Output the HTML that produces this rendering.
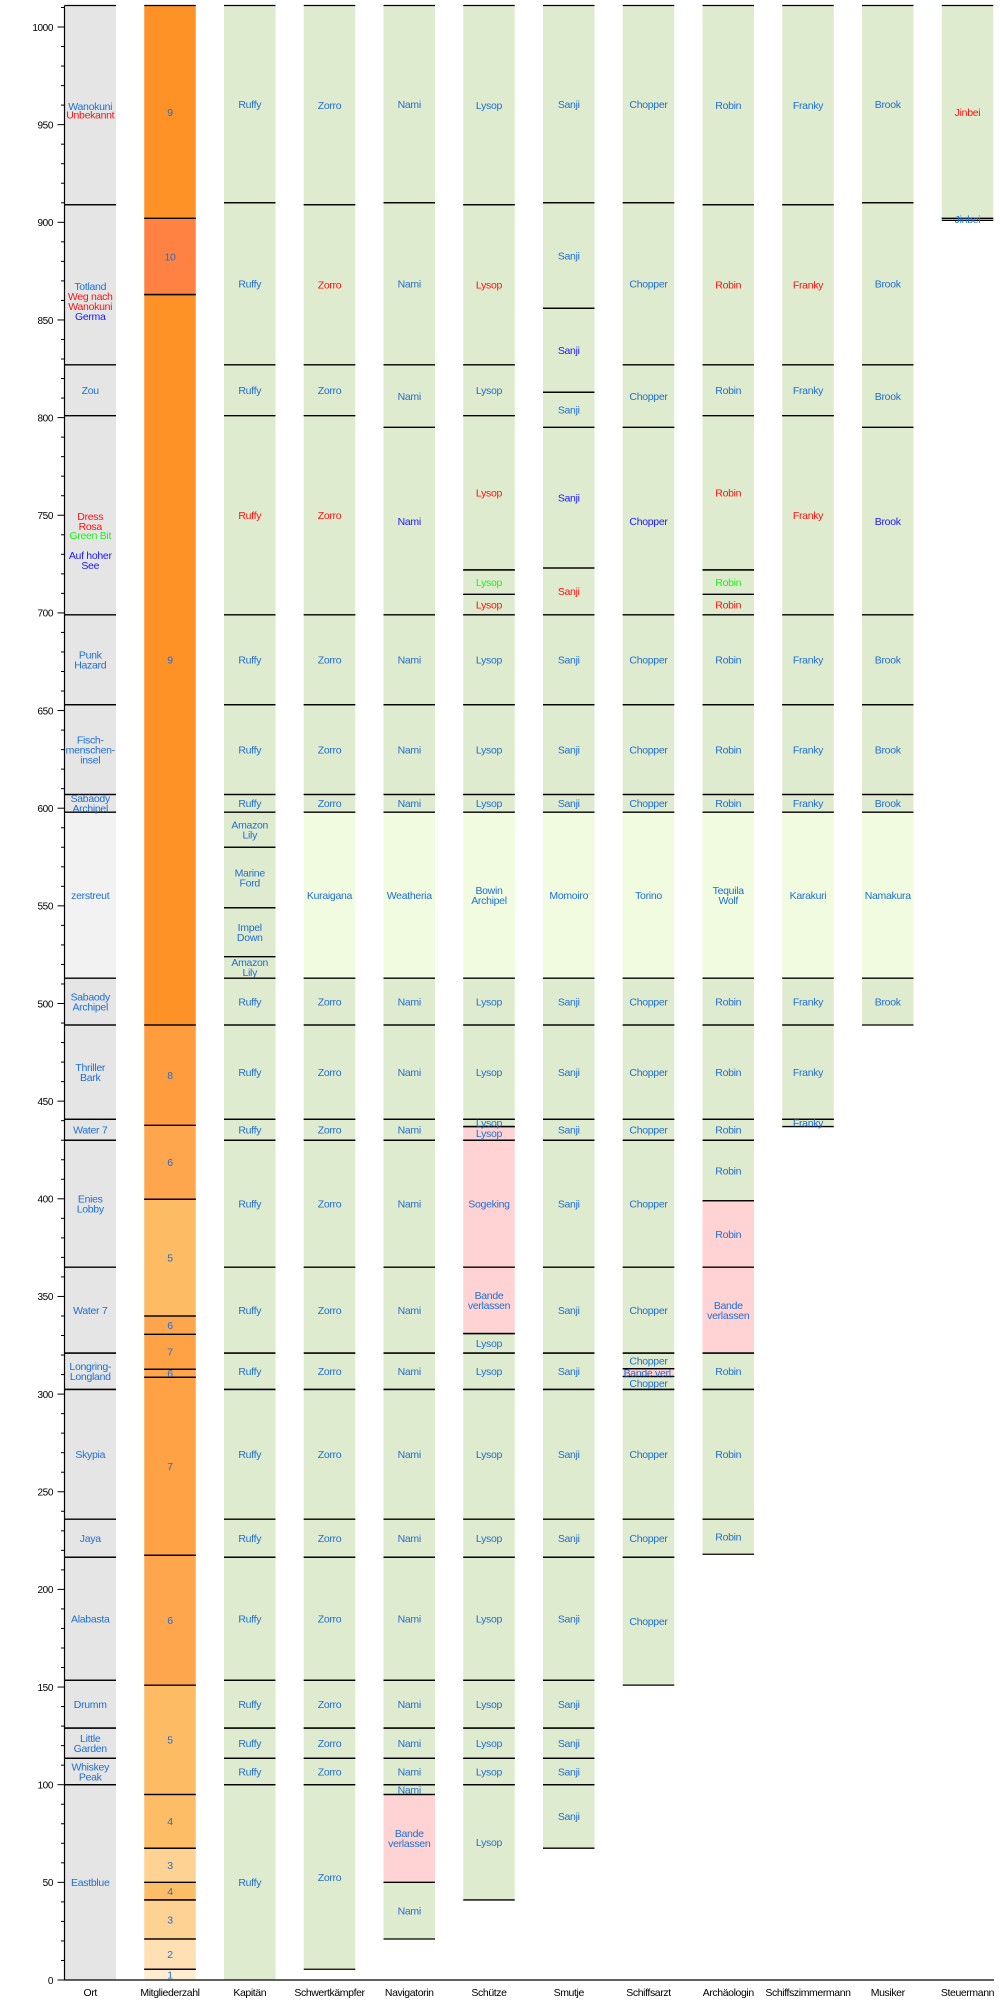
<!DOCTYPE html>
<html><head><meta charset="utf-8"><title>Strohhutbande Chart</title>
<style>
html,body{margin:0;padding:0;background:#fff;}
svg{display:block;font-family:"Liberation Sans","DejaVu Sans",sans-serif;}
</style></head>
<body>
<svg id="chart" width="1000" height="2000" viewBox="0 0 1000 2000" xmlns="http://www.w3.org/2000/svg"></svg>
<script>
const categories = ["Ort","Mitgliederzahl","Kapitän","Schwertkämpfer","Navigatorin","Schütze","Smutje","Schiffsarzt","Archäologin","Schiffszimmermann","Musiker","Steuermann"];
const yTicks = [0,50,100,150,200,250,300,350,400,450,500,550,600,650,700,750,800,850,900,950,1000];
const yMax = 1011;
// [from, to, label, fill, textColor]
const ortSeg = [[0,100,"Eastblue"],[100,113.5,"Whiskey\nPeak"],[113.5,129,"Little\nGarden"],[129,153.5,"Drumm"],[153.5,216.5,"Alabasta"],[216.5,236,"Jaya"],[236,302.4,"Skypia"],[302.4,321,"Longring-\nLongland"],[321,365,"Water 7"],[365,430,"Enies\nLobby"],[430,440.7,"Water 7"],[440.7,489,"Thriller\nBark"],[489,513,"Sabaody\nArchipel"],[513,598,"zerstreut","ol"],[598,607,"Sabaody\nArchipel"],[607,653,"Fisch-\nmenschen-\ninsel"],[653,699,"Punk\nHazard"],[699,801,""],[801,827,"Zou"],[827,909,""],[909,1011,""]];
// [value, text, color]
const ortNotes = [[747,"Dress\nRosa","r"],[739.7,"Green Bit","gr"],[727,"Auf hoher\nSee","db"],[867.4,"Totland","b"],[859.7,"Weg nach\nWanokuni","r"],[852,"Germa","db"],[959.4,"Wanokuni","b"],[955,"Unbekannt","r"]];
const memberSeg = [[0,5.5,1],[5.5,21,2],[21,41,3],[41,50,4],[50,67.5,3],[67.5,95,4],[95,151,5],[151,217.5,6],[217.5,308.6,7],[308.6,312.7,6],[312.7,330.6,7],[330.6,340,6],[340,399.8,5],[399.8,437.6,6],[437.6,489,8],[489,863,9],[863,902,10],[902,1011,9]];
const kapitanSeg = [[0,100,"Ruffy"],[100,113.5,"Ruffy"],[113.5,129,"Ruffy"],[129,153.5,"Ruffy"],[153.5,216.5,"Ruffy"],[216.5,236,"Ruffy"],[236,302.4,"Ruffy"],[302.4,321,"Ruffy"],[321,365,"Ruffy"],[365,430,"Ruffy"],[430,440.7,"Ruffy"],[440.7,489,"Ruffy"],[489,513,"Ruffy"],[513,524,"Amazon\nLily"],[524,549,"Impel\nDown"],[549,580,"Marine\nFord"],[580,598,"Amazon\nLily"],[598,607,"Ruffy"],[607,653,"Ruffy"],[653,699,"Ruffy"],[699,801,"Ruffy","g","r"],[801,827,"Ruffy"],[827,910,"Ruffy"],[910,1011,"Ruffy"]];
const zorroSeg = [[5.5,100,"Zorro"],[100,113.5,"Zorro"],[113.5,129,"Zorro"],[129,153.5,"Zorro"],[153.5,216.5,"Zorro"],[216.5,236,"Zorro"],[236,302.4,"Zorro"],[302.4,321,"Zorro"],[321,365,"Zorro"],[365,430,"Zorro"],[430,440.7,"Zorro"],[440.7,489,"Zorro"],[489,513,"Zorro"],[513,598,"Kuraigana","lg"],[598,607,"Zorro"],[607,653,"Zorro"],[653,699,"Zorro"],[699,801,"Zorro","g","r"],[801,827,"Zorro"],[827,909,"Zorro","g","r"],[909,1011,"Zorro"]];
const namiSeg = [[21,50,"Nami"],[50,95,"Bande\nverlassen","p"],[95,100,"Nami"],[100,113.5,"Nami"],[113.5,129,"Nami"],[129,153.5,"Nami"],[153.5,216.5,"Nami"],[216.5,236,"Nami"],[236,302.4,"Nami"],[302.4,321,"Nami"],[321,365,"Nami"],[365,430,"Nami"],[430,440.7,"Nami"],[440.7,489,"Nami"],[489,513,"Nami"],[513,598,"Weatheria","lg"],[598,607,"Nami"],[607,653,"Nami"],[653,699,"Nami"],[699,795,"Nami","g","db"],[795,827,"Nami"],[827,910,"Nami"],[910,1011,"Nami"]];
const lysopSeg = [[41,100,"Lysop"],[100,113.5,"Lysop"],[113.5,129,"Lysop"],[129,153.5,"Lysop"],[153.5,216.5,"Lysop"],[216.5,236,"Lysop"],[236,302.4,"Lysop"],[302.4,321,"Lysop"],[321,331,"Lysop"],[331,365,"Bande\nverlassen","p"],[365,430,"Sogeking","p"],[430,437,"Lysop","p"],[437,440.7,"Lysop"],[440.7,489,"Lysop"],[489,513,"Lysop"],[513,598,"Bowin\nArchipel","lg"],[598,607,"Lysop"],[607,653,"Lysop"],[653,699,"Lysop"],[699,709.5,"Lysop","g","r"],[709.5,722,"Lysop","g","gr"],[722,801,"Lysop","g","r"],[801,827,"Lysop"],[827,909,"Lysop","g","r"],[909,1011,"Lysop"]];
const sanjiSeg = [[67.5,100,"Sanji"],[100,113.5,"Sanji"],[113.5,129,"Sanji"],[129,153.5,"Sanji"],[153.5,216.5,"Sanji"],[216.5,236,"Sanji"],[236,302.4,"Sanji"],[302.4,321,"Sanji"],[321,365,"Sanji"],[365,430,"Sanji"],[430,440.7,"Sanji"],[440.7,489,"Sanji"],[489,513,"Sanji"],[513,598,"Momoiro","lg"],[598,607,"Sanji"],[607,653,"Sanji"],[653,699,"Sanji"],[699,723,"Sanji","g","r"],[723,795,"Sanji","g","db"],[795,813,"Sanji"],[813,856,"Sanji","g","db"],[856,910,"Sanji"],[910,1011,"Sanji"]];
const chopperSeg = [[151,216.5,"Chopper"],[216.5,236,"Chopper"],[236,302.4,"Chopper"],[302.4,309,"Chopper"],[309,313,"Bande verl.","p"],[313,321,"Chopper"],[321,365,"Chopper"],[365,430,"Chopper"],[430,440.7,"Chopper"],[440.7,489,"Chopper"],[489,513,"Chopper"],[513,598,"Torino","lg"],[598,607,"Chopper"],[607,653,"Chopper"],[653,699,"Chopper"],[699,795,"Chopper","g","db"],[795,827,"Chopper"],[827,910,"Chopper"],[910,1011,"Chopper"]];
const robinSeg = [[218,236,"Robin"],[236,302.4,"Robin"],[302.4,321,"Robin"],[321,365,"Bande\nverlassen","p"],[365,399,"Robin","p"],[399,430,"Robin"],[430,440.7,"Robin"],[440.7,489,"Robin"],[489,513,"Robin"],[513,598,"Tequila\nWolf","lg"],[598,607,"Robin"],[607,653,"Robin"],[653,699,"Robin"],[699,709.5,"Robin","g","r"],[709.5,722,"Robin","g","gr"],[722,801,"Robin","g","r"],[801,827,"Robin"],[827,909,"Robin","g","r"],[909,1011,"Robin"]];
const frankySeg = [[437,440.7,"Franky"],[440.7,489,"Franky"],[489,513,"Franky"],[513,598,"Karakuri","lg"],[598,607,"Franky"],[607,653,"Franky"],[653,699,"Franky"],[699,801,"Franky","g","r"],[801,827,"Franky"],[827,909,"Franky","g","r"],[909,1011,"Franky"]];
const brookSeg = [[489,513,"Brook"],[513,598,"Namakura","lg"],[598,607,"Brook"],[607,653,"Brook"],[653,699,"Brook"],[699,795,"Brook","g","db"],[795,827,"Brook"],[827,910,"Brook"],[910,1011,"Brook"]];
const jinbeiSeg = [[901,902,"Jinbei"],[902,1011,"Jinbei","g","r"]];

const FILL = {g:"#dfebce",lg:"#f0fbdf",p:"#ffd3d3",o:"#e5e5e5",ol:"#f2f2f2"};
const TCOL = {b:"#1f6fd1",r:"#ff1010",gr:"#22ee22",db:"#1a1aff"};
const MCOL = {1:"#feedd0",2:"#fee0b4",3:"#fdd293",4:"#fdbd66",5:"#fdbb63",6:"#fea64e",7:"#fea245",8:"#fe9c3e",9:"#fe9226",10:"#ff8242"};

const NS = "http://www.w3.org/2000/svg";
const svg = document.getElementById("chart");
const y0 = 1980, k = 1.953;
function yScale(v){ return y0 - k*v; }
const colLeft0 = 64.5, colStep = 79.75, colW = 51.5;
function xLeft(i){ return colLeft0 + colStep*i; }
function xCenter(i){ return xLeft(i) + colW/2; }

function mk(tag, attrs, parent){
  const e = document.createElementNS(NS, tag);
  for (const a in attrs) e.setAttribute(a, attrs[a]);
  (parent||svg).appendChild(e);
  return e;
}
function multiText(g, cx, cyVal, label, color, name){
  const lines = String(label).split("\n");
  const cy = yScale(cyVal);
  const lh = 10;
  const t = mk("text", {x:cx, "text-anchor":"middle", "font-size":"10.5", fill:color, "letter-spacing":"-0.3"}, g);
  
  
  lines.forEach((ln, j) => {
    const ts = mk("tspan", {x:cx, y:(cy - (lines.length-1)*lh/2 + j*lh + 3.8).toFixed(1)}, t);
    ts.textContent = ln;
  });
}
function drawColumn(i, segs, name, defFill){
  const g = mk("g", {});
  
  
  const x = xLeft(i);
  segs.forEach(s => {
    const [a, b, label, f, tc] = s;
    const r = mk("rect", {x:x, y:yScale(b), width:colW, height:(yScale(a)-yScale(b)), fill:FILL[f||defFill]}, g);
    
    
  });
  segs.forEach(s => {
    [s[0], s[1]].forEach(v => {
      if (v <= 0) return;
      mk("line", {x1:x, x2:x+colW, y1:yScale(v), y2:yScale(v), stroke:"#000", "stroke-width":"1.3"}, g);
    });
  });
  segs.forEach(s => {
    const [a, b, label, f, tc] = s;
    if (label) multiText(g, xCenter(i), (a+b)/2, label, TCOL[tc||"b"], name + '-label');
  });
}

// Ort
drawColumn(0, ortSeg, "ort", "o");
ortNotes.forEach(n => multiText(svg, xCenter(0), n[0], n[1], TCOL[n[2]], "ort-note"));
// Mitgliederzahl
(function(){
  const g = mk("g", {});
  
  
  const x = xLeft(1);
  memberSeg.forEach(s => {
    const r = mk("rect", {x:x, y:yScale(s[1]), width:colW, height:(yScale(s[0])-yScale(s[1])), fill:MCOL[s[2]]}, g);
    
    
  });
  memberSeg.forEach(s => {
    [s[0], s[1]].forEach(v => { if (v > 0) mk("line", {x1:x, x2:x+colW, y1:yScale(v), y2:yScale(v), stroke:"#000", "stroke-width":"1.3"}, g); });
  });
  memberSeg.forEach(s => multiText(g, xCenter(1), (s[0]+s[1])/2, String(s[2]), TCOL.b, "member-count-label"));
})();
drawColumn(2, kapitanSeg, "kapitaen", "g");
drawColumn(3, zorroSeg, "schwertkaempfer", "g");
drawColumn(4, namiSeg, "navigatorin", "g");
drawColumn(5, lysopSeg, "schuetze", "g");
drawColumn(6, sanjiSeg, "smutje", "g");
drawColumn(7, chopperSeg, "schiffsarzt", "g");
drawColumn(8, robinSeg, "archaeologin", "g");
drawColumn(9, frankySeg, "schiffszimmermann", "g");
drawColumn(10, brookSeg, "musiker", "g");
drawColumn(11, jinbeiSeg, "steuermann", "g");

// Axes
const ax = mk("g", {});


mk("line", {x1:64.5, x2:64.5, y1:yScale(yMax), y2:y0, stroke:"#000", "stroke-width":"1.2"}, ax);
for (let v = 0; v <= 1010; v += 10) {
  const major = v % 50 === 0;
  mk("line", {x1:64.5 - (major ? 7 : 3.5), x2:64.5, y1:yScale(v), y2:yScale(v), stroke:"#000", "stroke-width":"1"}, ax);
}
yTicks.forEach(v => {
  const t = mk("text", {x:53, y:(yScale(v)+3.8).toFixed(1), "text-anchor":"end", "font-size":"10", fill:"#000", "letter-spacing":"-0.4"}, ax);
  
  
  t.textContent = v;
});
const xa = mk("g", {});


mk("line", {x1:64.5, x2:994, y1:y0, y2:y0, stroke:"#000", "stroke-width":"1.2"}, xa);
categories.forEach((c, i) => {
  const t = mk("text", {x:xCenter(i), y:1996, "text-anchor":"middle", "font-size":"10.5", fill:"#000", "letter-spacing":"-0.4"}, xa);
  
  
  t.textContent = c;
});
</script>
</body></html>
